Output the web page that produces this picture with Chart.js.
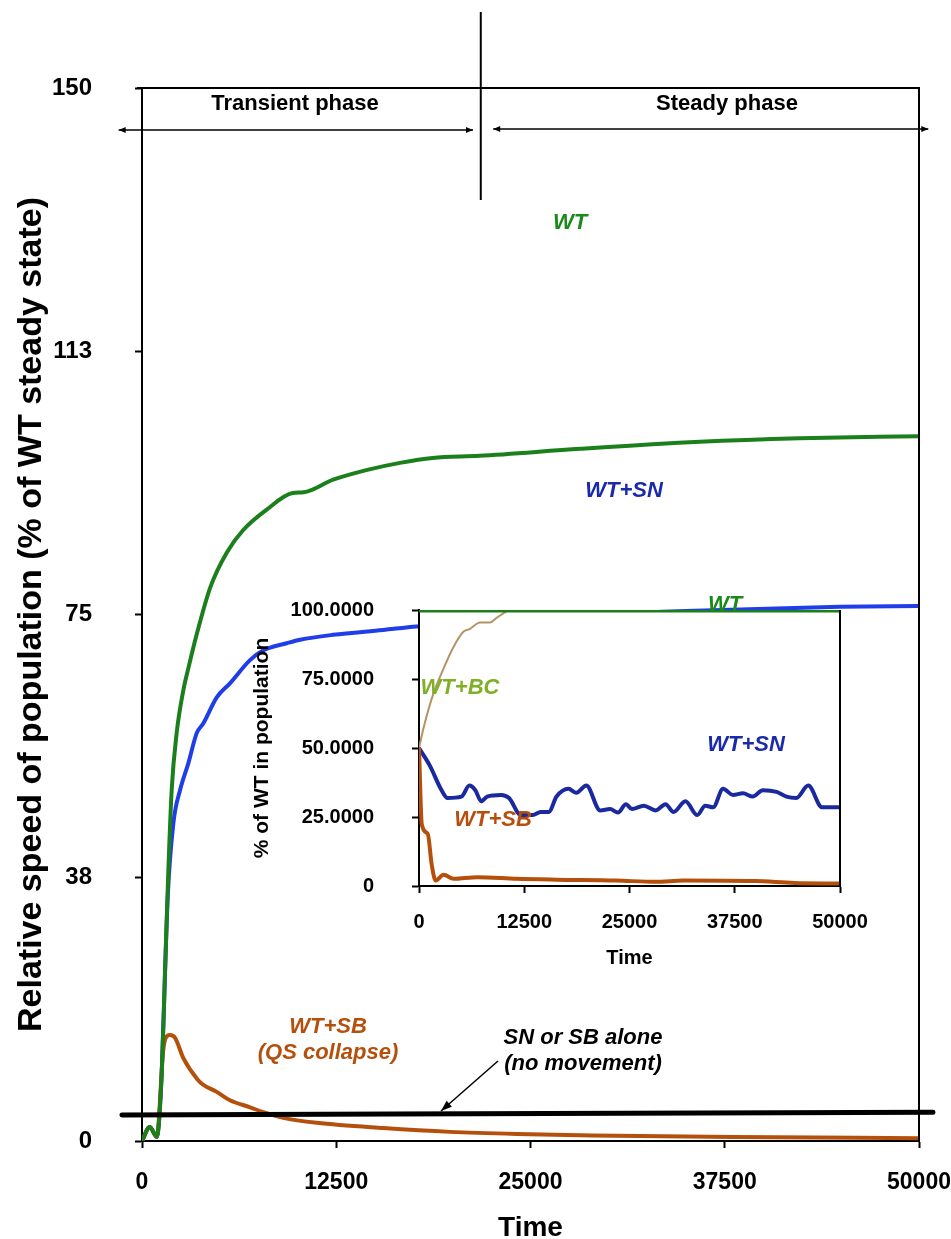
<!DOCTYPE html>
<html>
<head>
<meta charset="utf-8">
<script src="https://cdn.jsdelivr.net/npm/chart.js@4.4.0/dist/chart.umd.min.js"></script>
<style>
  html, body { margin: 0; padding: 0; background: #fff; }
  #wrap { position: relative; width: 951px; height: 1239px; }
  #main { position: absolute; left: 0; top: 0; }
  #inset { position: absolute; left: 240px; top: 560px; }
</style>
</head>
<body>
<div id="wrap">
  <canvas id="main" width="951" height="1239"></canvas>
  <canvas id="inset" width="660" height="420"></canvas>
</div>
<script>
// main chart: relative speed (% of WT steady state) vs time
const wtTime = [0, 500, 950, 1270, 1480, 1690, 1910, 2230, 2660, 3000, 3500, 4400, 5450, 6500, 8000, 9700, 10400, 12300, 14500, 16600, 18700, 21700, 28200, 35900, 42300, 50000];
const wtSpeed = [0, 2.0, 0.6, 9.7, 23.9, 38.2, 50.0, 58.1, 64.2, 67.5, 72.0, 78.9, 83.8, 87.0, 89.9, 92.3, 92.4, 94.2, 95.6, 96.6, 97.3, 97.6, 98.6, 99.6, 100.1, 100.4];

const snTime = [0, 500, 950, 1270, 1480, 1660, 2020, 2450, 2980, 3520, 3950, 4810, 5660, 6950, 7810, 9310, 10170, 12290, 15500, 17680, 25000, 35000, 44900, 50000];
const snSpeed = [0, 2.0, 0.6, 9.7, 23.9, 35.0, 45.3, 50.0, 53.8, 58.1, 59.5, 63.2, 65.2, 68.5, 69.9, 70.9, 71.4, 72.1, 72.8, 73.3, 74.5, 75.5, 76.1, 76.2];

const sbTime = [0, 500, 950, 1370, 1550, 1800, 2130, 2660, 3600, 3950, 4810, 5660, 6950, 7810, 9090, 11240, 15530, 19820, 24110, 29000, 38030, 50000];
const sbSpeed = [0, 2.0, 0.6, 13.0, 14.8, 15.1, 14.7, 11.8, 8.7, 8.0, 7.0, 5.8, 4.8, 4.1, 3.3, 2.6, 1.85, 1.3, 1.0, 0.8, 0.57, 0.4];

const aloneTime = [-1290, 50900];
const aloneSpeed = [3.7, 4.1];

const mainTicksY = [0, 37.5, 75, 112.5, 150];

// inset: % of WT in population vs time
const inWtTime = [0, 50000];
const inWtPct = [100, 100];

const inBcTime = [0, 600, 1700, 2890, 4080, 5270, 6060, 7250, 8430, 9230, 10500, 11000];
const inBcPct = [50, 58, 69.6, 78.6, 86.5, 92.1, 93.2, 95.5, 95.5, 97.2, 99.6, 100];

const inSnTime = [0, 1270, 2680, 3390, 5040, 5980, 6690, 7390, 8100, 9750, 10690, 12100, 13510, 14450, 15400, 16340, 17750, 18690, 19870, 21520, 22690, 23640, 24580, 25280, 26700, 28110, 29280, 30230, 31640, 33050, 33990, 34930, 36110, 37290, 38470, 39640, 40820, 42470, 43640, 44820, 46230, 47880, 50000];
const inSnPct = [50, 43.7, 34.7, 31.9, 32.4, 36.4, 34.7, 30.7, 32.4, 33.0, 31.9, 25.7, 25.7, 26.8, 26.8, 32.4, 35.2, 33.8, 36.4, 27.4, 27.9, 26.6, 29.6, 27.9, 29.1, 27.4, 29.6, 26.8, 30.7, 25.7, 29.1, 28.5, 35.2, 33.0, 33.6, 32.4, 34.7, 34.1, 32.4, 31.9, 36.4, 28.5, 28.5];

const inSbTime = [0, 330, 1040, 1510, 1980, 2920, 4100, 6920, 11630, 16340, 23400, 28110, 31400, 39880, 44590, 50000];
const inSbPct = [50, 22.3, 18.9, 7.7, 2.0, 4.1, 2.6, 3.2, 2.6, 2.3, 2.0, 1.5, 2.0, 1.8, 1.1, 0.9];

const FONT = 'Liberation Sans, Arial, Helvetica, sans-serif';
Chart.defaults.font.family = FONT;
Chart.defaults.color = '#000';

const pts = (xs, ys) => xs.map((x, i) => ({ x: x, y: ys[i] }));

function text(ctx, s, x, y, size, color, italic) {
    ctx.save();
    ctx.font = (italic ? 'italic ' : '') + 'bold ' + size + 'px ' + FONT;
    ctx.fillStyle = color;
    ctx.textAlign = 'center';
    ctx.textBaseline = 'middle';
    ctx.fillText(s, x, y);
    ctx.restore();
}

function head(ctx, x1, y1, x2, y2, len, w) {
    const a = Math.atan2(y2 - y1, x2 - x1);
    ctx.beginPath();
    ctx.moveTo(x2, y2);
    ctx.lineTo(x2 - len * Math.cos(a) + w * Math.sin(a), y2 - len * Math.sin(a) - w * Math.cos(a));
    ctx.lineTo(x2 - len * Math.cos(a) - w * Math.sin(a), y2 - len * Math.sin(a) + w * Math.cos(a));
    ctx.closePath();
    ctx.fill();
}

function arrow(ctx, x1, y1, x2, y2, both, len, w) {
    ctx.beginPath();
    ctx.moveTo(x1, y1);
    ctx.lineTo(x2, y2);
    ctx.stroke();
    head(ctx, x1, y1, x2, y2, len, w);
    if (both) head(ctx, x2, y2, x1, y1, len, w);
}

const mainExtras = {
    id: 'mainExtras',
    afterDraw(chart) {
        const ctx = chart.ctx;
        const a = chart.chartArea;
        const xs = chart.scales.x;
        ctx.save();
        ctx.strokeStyle = '#000';
        ctx.fillStyle = '#000';
        ctx.lineWidth = 2;
        // box top and right
        ctx.beginPath();
        ctx.moveTo(137, a.top);
        ctx.lineTo(a.right, a.top);
        ctx.lineTo(a.right, a.bottom);
        ctx.stroke();
        // phase divider
        const xd = xs.getPixelForValue(21800);
        ctx.beginPath();
        ctx.moveTo(xd, 12);
        ctx.lineTo(xd, 200);
        ctx.stroke();
        ctx.lineWidth = 1.5;
        arrow(ctx, xs.getPixelForValue(-1500), 130, xs.getPixelForValue(21300), 130, true, 7, 3);
        arrow(ctx, xs.getPixelForValue(22600), 129, xs.getPixelForValue(50600), 129, true, 7, 3);
        text(ctx, 'Transient phase', 295, 104, 22, '#000', false);
        text(ctx, 'Steady phase', 727, 104, 22, '#000', false);
        // series labels
        text(ctx, 'WT', 570, 223, 22, '#1a8a1a', true);
        text(ctx, 'WT+SN', 624, 491, 22, '#1a2aa8', true);
        text(ctx, 'WT+SB', 328, 1027, 22, '#b5500c', true);
        text(ctx, '(QS collapse)', 328, 1053, 22, '#b5500c', true);
        text(ctx, 'SN or SB alone', 583, 1038, 22, '#000', true);
        text(ctx, '(no movement)', 583, 1064, 22, '#000', true);
        ctx.lineWidth = 1.5;
        arrow(ctx, 498, 1061, 441, 1111, false, 11, 4);
        ctx.restore();
    }
};

new Chart(document.getElementById('main'), {
    type: 'line',
    data: {
        datasets: [
            { label: 'SN or SB alone', data: pts(aloneTime, aloneSpeed), borderColor: '#000', borderWidth: 5, clip: false, order: 0 },
            { label: 'WT', data: pts(wtTime, wtSpeed), borderColor: '#1b7f1b', borderWidth: 4, order: 1 },
            { label: 'WT+SB', data: pts(sbTime, sbSpeed), borderColor: '#b5500c', borderWidth: 4, order: 2 },
            { label: 'WT+SN', data: pts(snTime, snSpeed), borderColor: '#1f3de8', borderWidth: 4, order: 3 }
        ]
    },
    options: {
        responsive: false,
        animation: false,
        layout: { padding: { top: 88, right: 32, left: 0, bottom: 0 } },
        elements: {
            point: { radius: 0 },
            line: { cubicInterpolationMode: 'monotone', borderCapStyle: 'round', borderJoinStyle: 'round' }
        },
        scales: {
            x: {
                type: 'linear', min: 0, max: 50000,
                afterFit: s => { s.height = 98; s.paddingRight = 32; s.paddingLeft = 0; },
                ticks: { stepSize: 12500, font: { size: 23, weight: 'bold' }, color: '#000', padding: 21, maxRotation: 0, callback: v => String(v) },
                grid: { drawOnChartArea: false, tickLength: 7, color: '#000', tickWidth: 2 },
                border: { display: true, color: '#000', width: 2 },
                title: { display: true, text: 'Time', font: { size: 28, weight: 'bold', lineHeight: 1 }, color: '#000', padding: { top: 0, bottom: -3 } }
            },
            y: {
                min: 0, max: 150,
                afterFit: s => { s.width = 142; },
                afterBuildTicks: s => { s.ticks = mainTicksY.map(v => ({ value: v })); },
                ticks: { font: { size: 24, weight: 'bold' }, color: '#000', padding: 43, callback: v => Math.round(v) },
                grid: { drawOnChartArea: false, tickLength: 7, color: '#000', tickWidth: 2 },
                border: { display: true, color: '#000', width: 2 },
                title: { display: true, text: 'Relative speed of population (% of WT steady state)', font: { size: 34, weight: 'bold' }, color: '#000', padding: { top: 11, bottom: 0 } }
            }
        },
        plugins: { legend: { display: false }, tooltip: { enabled: false } }
    },
    plugins: [mainExtras]
});

const insetExtras = {
    id: 'insetExtras',
    beforeDraw(chart) {
        const a = chart.chartArea;
        const ctx = chart.ctx;
        ctx.save();
        ctx.fillStyle = '#fff';
        ctx.fillRect(a.left, a.top, a.right - a.left, a.bottom - a.top);
        ctx.restore();
    },
    afterDraw(chart) {
        const a = chart.chartArea;
        const ctx = chart.ctx;
        ctx.save();
        ctx.strokeStyle = '#000';
        ctx.lineWidth = 2;
        ctx.beginPath();
        ctx.moveTo(a.right, a.top);
        ctx.lineTo(a.right, a.bottom);
        ctx.stroke();
        // labels (canvas is offset 240,560)
        text(ctx, 'WT', 725 - 240, 605 - 560, 22, '#1a8a1a', true);
        text(ctx, 'WT+BC', 460 - 240, 688 - 560, 22, '#7fb027', true);
        text(ctx, 'WT+SN', 746 - 240, 745 - 560, 22, '#1a2aa8', true);
        text(ctx, 'WT+SB', 493 - 240, 820 - 560, 22, '#b5500c', true);
        ctx.restore();
    }
};

new Chart(document.getElementById('inset'), {
    type: 'line',
    data: {
        datasets: [
            { label: 'WT', data: pts(inWtTime, inWtPct), borderColor: '#1b7f1b', borderWidth: 5, order: 0 },
            { label: 'WT+SB', data: pts(inSbTime, inSbPct), borderColor: '#b5500c', borderWidth: 4, order: 1 },
            { label: 'WT+SN', data: pts(inSnTime, inSnPct), borderColor: '#1a2a9e', borderWidth: 4, order: 2 },
            { label: 'WT+BC', data: pts(inBcTime, inBcPct), borderColor: '#b39467', borderWidth: 2, order: 3 }
        ]
    },
    options: {
        responsive: false,
        animation: false,
        layout: { padding: { top: 30, right: 60, left: 0, bottom: 0 } },
        elements: {
            point: { radius: 0 },
            line: { cubicInterpolationMode: 'monotone', borderJoinStyle: 'round' }
        },
        scales: {
            x: {
                type: 'linear', min: 0, max: 50000,
                afterFit: s => { s.height = 94; },
                ticks: { stepSize: 12500, font: { size: 20, weight: 'bold' }, color: '#000', padding: 17, maxRotation: 0, callback: v => String(v) },
                grid: { drawOnChartArea: false, tickLength: 7, color: '#000', tickWidth: 2 },
                border: { display: true, color: '#000', width: 2 },
                title: { display: true, text: 'Time', font: { size: 20, weight: 'bold' }, color: '#000', padding: { top: 0, bottom: 10 } }
            },
            y: {
                min: 0, max: 100,
                afterFit: s => { s.width = 179; },
                ticks: { stepSize: 25, font: { size: 20, weight: 'bold' }, color: '#000', padding: 38, callback: v => v === 0 ? '0' : v.toFixed(4) },
                grid: { drawOnChartArea: false, tickLength: 7, color: '#000', tickWidth: 2 },
                border: { display: true, color: '#000', width: 2 },
                title: { display: true, text: '% of WT in population', font: { size: 21, weight: 'bold' }, color: '#000', padding: { top: 10, bottom: 0 } }
            }
        },
        plugins: { legend: { display: false }, tooltip: { enabled: false } }
    },
    plugins: [insetExtras]
});
</script>
</body>
</html>
